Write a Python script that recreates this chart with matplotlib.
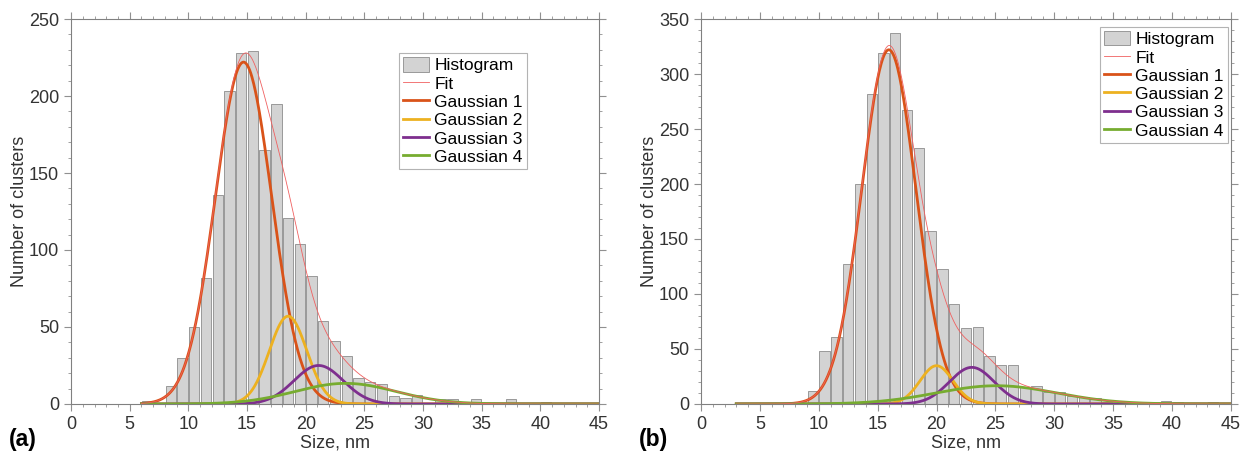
import numpy as np
import matplotlib
matplotlib.use("Agg")
import matplotlib.pyplot as plt
from matplotlib.ticker import MultipleLocator

plt.rcParams['font.family'] = ['Liberation Sans', 'DejaVu Sans']

# histogram bins: left edge of each 1 nm bin and counts
bins_a = list(range(6, 41))
counts_a = [2, 0, 12, 30, 50, 82, 136, 203, 228, 229, 165, 195, 121, 104, 83, 54,
            41, 31, 17, 14, 13, 5, 4, 6, 0, 3, 3, 0, 3, 0, 0, 3, 0, 0, 1]

bins_b = list(range(9, 44))
counts_b = [12, 48, 61, 127, 200, 282, 319, 337, 267, 233, 157, 123, 91, 69, 70, 44,
            35, 35, 15, 16, 11, 11, 7, 6, 5, 2, 1, 1, 0, 1, 3, 2, 0, 0, 2]

# gaussian components: centre (nm), amplitude (clusters), sigma (nm)
centres_a = [14.7, 18.5, 21.1, 23.4]
amps_a = [222, 57, 25, 13.4]
sigmas_a = [2.4, 1.6, 2.1, 4.3]
start_a = 6

centres_b = [15.95, 20.0, 23.0, 25.1]
amps_b = [322, 34.8, 33.3, 16.6]
sigmas_b = [2.3, 1.4, 1.9, 5.1]
start_b = 3

names = ['Gaussian 1', 'Gaussian 2', 'Gaussian 3', 'Gaussian 4']
colors = ['#D95319', '#EDB120', '#7E2F8E', '#77AC30']


def draw_panel(ax, bins, counts, centres, amps, sigmas, start, ymax, legend_anchor):
    hist = ax.bar(np.array(bins) + 0.5, counts, width=0.88, facecolor='#d3d3d3',
                  edgecolor='#8c8c8c', linewidth=0.6, label='Histogram', zorder=1)
    x = np.linspace(start, 45, 800)
    parts = [a * np.exp(-(x - c) ** 2 / (2 * s ** 2)) for c, a, s in zip(centres, amps, sigmas)]
    fit, = ax.plot(x, sum(parts), color='#f06060', lw=0.6, label='Fit', zorder=3)
    handles = [hist, fit]
    for p, n, col in zip(parts, names, colors):
        ln, = ax.plot(x, p, color=col, lw=2, label=n, zorder=2)
        handles.append(ln)

    ax.set_xlim(0, 45)
    ax.set_ylim(0, ymax)
    ax.xaxis.set_major_locator(MultipleLocator(5))
    ax.xaxis.set_minor_locator(MultipleLocator(1))
    ax.yaxis.set_major_locator(MultipleLocator(50))
    ax.yaxis.set_minor_locator(MultipleLocator(10))
    ax.tick_params(which='both', direction='out', top=True, right=True,
                   color='#909090', labelcolor='#333333', labelsize=13)
    ax.tick_params(which='major', length=5)
    ax.tick_params(which='minor', length=2.5)
    for sp in ax.spines.values():
        sp.set_color('#808080')
    ax.set_xlabel('Size, nm', fontsize=13, color='#333333', labelpad=1)
    ax.set_ylabel('Number of clusters', fontsize=13, color='#333333', labelpad=1)

    leg = ax.legend(handles=handles, loc='upper right', bbox_to_anchor=legend_anchor,
                    fontsize=12.5, frameon=True, fancybox=False, handlelength=1.5,
                    handleheight=0.9, handletextpad=0.3, labelspacing=0.12,
                    borderpad=0.25, borderaxespad=0)
    leg.get_frame().set_edgecolor('#a0a0a0')
    leg.get_frame().set_linewidth(0.8)


fig = plt.figure(figsize=(12.4, 4.57), dpi=100)
ax1 = fig.add_axes([0.0573, 0.116, 0.4258, 0.8424])
ax2 = fig.add_axes([0.5653, 0.116, 0.4274, 0.8424])

draw_panel(ax1, bins_a, counts_a, centres_a, amps_a, sigmas_a, start_a, 250, (0.864, 0.912))
draw_panel(ax2, bins_b, counts_b, centres_b, amps_b, sigmas_b, start_b, 350, (0.995, 0.98))

fig.text(0.007, 0.025, '(a)', fontsize=16.5, fontweight='bold')
fig.text(0.515, 0.025, '(b)', fontsize=16.5, fontweight='bold')

fig.savefig('out.png', dpi=100)
